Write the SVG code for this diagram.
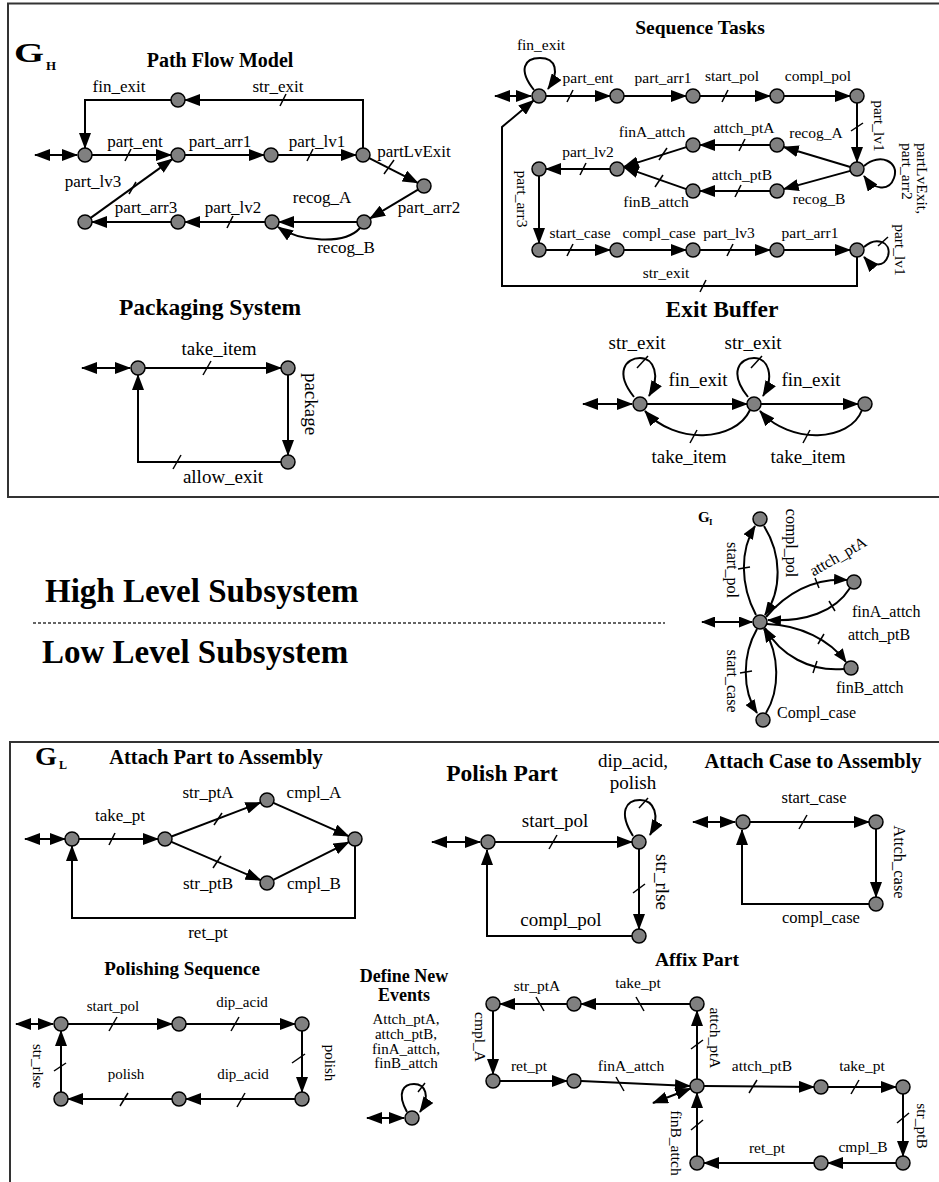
<svg xmlns="http://www.w3.org/2000/svg" width="939" height="1182" viewBox="0 0 939 1182">
<defs>
<marker id="ah" viewBox="0 0 16 12" refX="15" refY="6" markerWidth="16" markerHeight="12" markerUnits="userSpaceOnUse" orient="auto"><path d="M0,0 L16,6 L0,12 z" fill="#000"/></marker>
<marker id="ahs" viewBox="0 0 16 12" refX="15" refY="6" markerWidth="16" markerHeight="12" markerUnits="userSpaceOnUse" orient="auto-start-reverse"><path d="M0,0 L16,6 L0,12 z" fill="#000"/></marker>
<marker id="sm" viewBox="0 0 14 11" refX="13" refY="5.5" markerWidth="14" markerHeight="11" markerUnits="userSpaceOnUse" orient="auto"><path d="M0,0 L14,5.5 L0,11 z" fill="#000"/></marker>
<marker id="sms" viewBox="0 0 14 11" refX="13" refY="5.5" markerWidth="14" markerHeight="11" markerUnits="userSpaceOnUse" orient="auto-start-reverse"><path d="M0,0 L14,5.5 L0,11 z" fill="#000"/></marker>
<style>
.e path{fill:none;stroke:#000;stroke-width:2}
.e path.t{stroke-width:1.5}
.a{marker-end:url(#ah)}
.d{marker-start:url(#ahs);marker-end:url(#ah)}
.s{marker-end:url(#sm)}
.ds{marker-start:url(#sms);marker-end:url(#sm)}
.n{fill:#808080;stroke:#000;stroke-width:1.5}
text{font-family:"Liberation Serif","Times New Roman",serif;fill:#000}
.b{font-weight:bold}
.m{text-anchor:middle}
.r{text-anchor:middle;dominant-baseline:central}
.f15{font-size:15px}
.f155{font-size:15.5px}
.f16{font-size:16px}
.f165{font-size:16.5px}
.f17{font-size:17px}
.f19{font-size:19px}
.frame{fill:none;stroke:#333;stroke-width:2}
</style>
</defs>
<rect width="939" height="1182" fill="#fff"/>

<g id="frames">
<path class="frame" d="M939,3.5 H8 V497 H939"/>
<path class="frame" d="M10,1182 V742 H939"/>
<line x1="33" y1="623" x2="665" y2="623" stroke="#333" stroke-width="1.5" stroke-dasharray="3,2"/>
</g>

<g id="titles">
<text class="b" x="14" y="62" font-size="28" textLength="30" lengthAdjust="spacingAndGlyphs">G</text><text class="b" x="46" y="70" font-size="13">H</text>
<text class="b m" x="220" y="67" font-size="20">Path Flow Model</text>
<text class="b m" x="700" y="34" font-size="19.5">Sequence Tasks</text>
<text class="b m" x="210" y="315" font-size="23.5">Packaging System</text>
<text class="b m" x="722" y="317" font-size="23.5">Exit Buffer</text>
<text class="b" x="45" y="602" font-size="33">High Level Subsystem</text>
<text class="b" x="42" y="663" font-size="33">Low Level Subsystem</text>
<text class="b" x="698" y="522" font-size="15">G</text><text class="b" x="709" y="525" font-size="9">I</text>
<text class="b" x="35" y="765" font-size="25" textLength="22" lengthAdjust="spacingAndGlyphs">G</text><text class="b" x="59" y="769" font-size="12">L</text>
<text class="b m" x="216" y="764" font-size="20.5">Attach Part to Assembly</text>
<text class="b m" x="502" y="781" font-size="23.5">Polish Part</text>
<text class="b m" x="813" y="768" font-size="20.5">Attach Case to Assembly</text>
<text class="b m" x="182" y="975" font-size="19">Polishing Sequence</text>
<text class="b m" x="404" y="982" font-size="18">Define New</text>
<text class="b m" x="404" y="1001" font-size="18">Events</text>
<text class="b m" x="697" y="966" font-size="19.5">Affix Part</text>
</g>

<g id="connectors" class="e">
<!-- Path Flow Model -->
<path class="d" d="M35,155 H77"/>
<path class="a" d="M92,155 H171"/><path class="t" d="M125,161 L131,149"/>
<path class="a" d="M185,155 H264"/>
<path class="a" d="M278,155 H356"/><path class="t" d="M307,161 L313,149"/>
<path class="a" d="M363,148 V100 H185"/><path class="t" d="M280,106 L286,94"/>
<path class="a" d="M171,100 H85 V148"/>
<path class="a" d="M369.2,158.2 L417.8,182.8"/><path class="t" d="M384,174 L394,160"/>
<path class="a" d="M418,189.6 L370,218.4"/>
<path class="a" d="M357,222 H279"/>
<path class="a" d="M360,228 C345,245 300,242 278,227"/>
<path class="a" d="M265,222 H185"/><path class="t" d="M227,228 L233,216"/>
<path class="a" d="M171,222 H92"/>
<path class="a" d="M90.7,217.9 L172.3,159.1"/><path class="t" d="M129,194 L136,182"/>

<!-- Sequence Tasks -->
<path class="d" d="M495,96 H531"/>
<path class="a" d="M534,90 C518,70 524,58 540,58 C556,58 560,72 548,89"/>
<path class="a" d="M546,96 H610"/><path class="t" d="M567,102 L573,90"/>
<path class="a" d="M624,96 H686"/>
<path class="a" d="M700,96 H770"/><path class="t" d="M722,102 L728,90"/>
<path class="a" d="M784,96 H850"/>
<path class="a" d="M857,103 V162"/><path class="t" d="M851,131 L863,123"/>
<path class="a" d="M864,166 C880,152 900,162 894,178 C889,192 874,190 864,176"/>
<path class="a" d="M850.3,167 L783.7,147"/>
<path class="a" d="M770,145 H700"/><path class="t" d="M739,151 L745,139"/>
<path class="a" d="M686.3,147.1 L623.7,166.9"/><path class="t" d="M659,160 L667,148"/>
<path class="a" d="M850.3,170.9 L783.7,189.1"/>
<path class="a" d="M770,191 H700"/><path class="t" d="M735,197 L741,185"/>
<path class="a" d="M686.3,189.1 L623.7,167.1"/><path class="t" d="M655,187 L663,175"/>
<path class="a" d="M610,169 H546"/><path class="t" d="M580,175 L586,163"/>
<path class="a" d="M539,176 V243"/>
<path class="a" d="M546,250 H610"/><path class="t" d="M567,256 L573,244"/>
<path class="a" d="M624,250 H686"/>
<path class="a" d="M700,250 H770"/><path class="t" d="M727,256 L733,244"/>
<path class="a" d="M784,250 H850"/>
<path class="a" d="M864,247 C876,236 892,242 888,256 C884,268 872,266 864,257"/><path class="t" d="M878,246 L888,237"/>
<path class="a" d="M857,257 V286 H502 V127 L533.6,100.5"/><path class="t" d="M700,292 L706,280"/>

<!-- Packaging System -->
<path class="d" d="M82,368 H130"/>
<path class="a" d="M145,368 H281"/><path class="t" d="M203,375 L211,361"/>
<path class="a" d="M288,375 V455"/>
<path class="a" d="M281,462 H138 V375"/><path class="t" d="M173,469 L181,455"/>

<!-- Exit Buffer -->
<path class="d" d="M583,404 H632"/>
<path class="a" d="M634,397 C614,372 626,358 640,358 C654,358 661,376 649,396"/><path class="t" d="M637,368 L648,356"/>
<path class="a" d="M647,404 H747"/>
<path class="a" d="M750,410 C735,442 675,445 645,411"/><path class="t" d="M690,443 L697,430"/>
<path class="a" d="M748,397 C728,372 740,358 754,358 C768,358 775,376 763,396"/><path class="t" d="M751,368 L762,356"/>
<path class="a" d="M761,404 H858"/>
<path class="a" d="M862,410 C850,442 790,445 760,411"/><path class="t" d="M803,443 L810,430"/>

<!-- G_I -->
<path class="ds" d="M702,622 H752"/>
<path class="s" d="M756,615 C740,585 740,550 755,526"/><path class="t" d="M738,569 L750,567"/>
<path class="s" d="M764,526 C782,555 782,590 765,615"/>
<path class="s" d="M766,617 C785,595 810,578 847,580"/><path class="t" d="M815,578 L819,588"/>
<path class="s" d="M850,588 C835,612 805,622 768,620"/><path class="t" d="M829,601 L835,611"/>
<path class="s" d="M767,624 C800,625 830,640 846,662"/><path class="t" d="M824,634 L818,644"/>
<path class="s" d="M844,669 C810,672 780,655 765,628"/><path class="t" d="M813,673 L817,661"/>
<path class="s" d="M757,629 C742,655 742,690 757,713"/><path class="t" d="M740,673 L752,671"/>
<path class="s" d="M766,713 C780,690 780,655 764,629"/>

<!-- Attach Part to Assembly -->
<path class="d" d="M25,839 H65"/>
<path class="a" d="M79,839 H158"/><path class="t" d="M109,845 L115,833"/>
<path class="a" d="M171.5,836.5 L260.5,802.5"/><path class="t" d="M214,825 L222,813"/>
<path class="a" d="M171.4,841.8 L260.6,880.2"/><path class="t" d="M213,868 L221,856"/>
<path class="a" d="M273.4,802.8 L348.6,836.2"/>
<path class="a" d="M273.3,879.9 L348.7,842.1"/>
<path class="a" d="M355,846 V918 H72 V846"/>

<!-- Polish Part -->
<path class="d" d="M432,842 H480"/>
<path class="a" d="M495,842 H632"/><path class="t" d="M549,849 L557,835"/>
<path class="a" d="M633,836 C618,812 626,800 640,800 C654,800 661,816 650,835"/><path class="t" d="M639,808 L648,798"/>
<path class="a" d="M639,849 V929"/><path class="t" d="M633,893 L645,884"/>
<path class="a" d="M632,936 H487 V850"/>

<!-- Attach Case -->
<path class="d" d="M693,822 H735"/>
<path class="a" d="M750,822 H869"/><path class="t" d="M799,829 L807,815"/>
<path class="a" d="M876,829 V897"/>
<path class="a" d="M869,904 H742 V830"/>

<!-- Polishing Sequence -->
<path class="d" d="M16,1024 H53"/>
<path class="a" d="M68,1024 H172"/><path class="t" d="M109,1031 L117,1017"/>
<path class="a" d="M186,1024 H295"/><path class="t" d="M231,1031 L239,1017"/>
<path class="a" d="M302,1031 V1092"/><path class="t" d="M292,1063 L305,1054"/>
<path class="a" d="M295,1099 H186"/><path class="t" d="M237,1107 L245,1093"/>
<path class="a" d="M172,1099 H68"/><path class="t" d="M120,1106 L128,1093"/>
<path class="a" d="M61,1092 V1031"/><path class="t" d="M54,1071 L66,1063"/>

<!-- Define New Events -->
<path class="d" d="M367,1118 H404"/>
<path class="a" d="M407,1112 C396,1092 404,1084 414,1084 C425,1084 431,1096 420,1112"/><path class="t" d="M418,1092 L425,1083"/>

<!-- Affix Part -->
<path class="d" d="M653,1103 L690.5,1088.5"/>
<path class="a" d="M697,1079 V1011"/><path class="t" d="M691,1049 L703,1040"/>
<path class="a" d="M690,1004 H581"/><path class="t" d="M636,997 L644,1011"/>
<path class="a" d="M567,1004 H500"/><path class="t" d="M536,997 L544,1011"/>
<path class="a" d="M493,1011 V1074"/>
<path class="a" d="M500,1081 H567"/>
<path class="a" d="M581,1081 L690,1086"/><path class="t" d="M616,1077 L624,1091"/>
<path class="a" d="M704,1086 L814,1087"/><path class="t" d="M749,1093 L757,1080"/>
<path class="a" d="M828,1087 H896"/><path class="t" d="M851,1094 L859,1080"/>
<path class="a" d="M903,1094 V1156"/><path class="t" d="M897,1123 L909,1113"/>
<path class="a" d="M896,1163 H828"/>
<path class="a" d="M814,1163 H704"/>
<path class="a" d="M697,1156 V1093"/><path class="t" d="M691,1130 L703,1120"/>
</g>

<g id="labels">
<!-- Path Flow -->
<text class="m f17" x="119" y="92">fin_exit</text>
<text class="m f17" x="278" y="92">str_exit</text>
<text class="m f17" x="135" y="147">part_ent</text>
<text class="m f17" x="220" y="147">part_arr1</text>
<text class="m f17" x="317" y="147">part_lv1</text>
<text class="m f17" x="414" y="157">partLvExit</text>
<text class="m f17" x="93" y="187">part_lv3</text>
<text class="m f17" x="146" y="213">part_arr3</text>
<text class="m f17" x="233" y="213">part_lv2</text>
<text class="m f17" x="322" y="203">recog_A</text>
<text class="m f17" x="429" y="213">part_arr2</text>
<text class="m f17" x="346" y="253">recog_B</text>
<!-- Sequence Tasks -->
<text class="m f155" x="541" y="50">fin_exit</text>
<text class="m f155" x="588" y="83">part_ent</text>
<text class="m f155" x="663" y="83">part_arr1</text>
<text class="m f155" x="732" y="81">start_pol</text>
<text class="m f155" x="818" y="81">compl_pol</text>
<text class="r f155" transform="translate(879,126) rotate(90)">part_lv1</text>
<text class="f155" dominant-baseline="central" transform="translate(922,143) rotate(90)">partLvExit,</text>
<text class="f155" dominant-baseline="central" transform="translate(907,143) rotate(90)">part_arr2</text>
<text class="m f155" x="816" y="138">recog_A</text>
<text class="m f155" x="744" y="133">attch_ptA</text>
<text class="m f155" x="652" y="137">finA_attch</text>
<text class="m f155" x="588" y="157">part_lv2</text>
<text class="r f155" transform="translate(522,199) rotate(90)">part_arr3</text>
<text class="m f155" x="742" y="180">attch_ptB</text>
<text class="m f155" x="656" y="207">finB_attch</text>
<text class="m f155" x="819" y="204">recog_B</text>
<text class="m f155" x="580" y="238">start_case</text>
<text class="m f155" x="659" y="238">compl_case</text>
<text class="m f155" x="729" y="238">part_lv3</text>
<text class="m f155" x="810" y="238">part_arr1</text>
<text class="r f155" transform="translate(900,250) rotate(90)">part_lv1</text>
<text class="m f155" x="666" y="278">str_exit</text>
<!-- Packaging -->
<text class="m f19" x="219" y="355">take_item</text>
<text class="r f19" transform="translate(311,404) rotate(90)">package</text>
<text class="m f19" x="223" y="483">allow_exit</text>
<!-- Exit Buffer -->
<text class="m f19" x="637" y="349">str_exit</text>
<text class="m f19" x="753" y="349">str_exit</text>
<text class="m f19" x="698" y="386">fin_exit</text>
<text class="m f19" x="811" y="386">fin_exit</text>
<text class="m f19" x="689" y="463">take_item</text>
<text class="m f19" x="808" y="463">take_item</text>
<!-- G_I -->
<text class="r f16" transform="translate(732,570) rotate(90)">start_pol</text>
<text class="r f16" transform="translate(791,543) rotate(90)">compl_pol</text>
<text class="r f16" transform="translate(838,556) rotate(-30)">attch_ptA</text>
<text class="f16" x="852" y="617">finA_attch</text>
<text class="f16" x="848" y="640">attch_ptB</text>
<text class="f16" x="836" y="693">finB_attch</text>
<text class="r f16" transform="translate(732,681) rotate(90)">start_case</text>
<text class="f16" x="777" y="718">Compl_case</text>
<!-- Attach Part -->
<text class="m f17" x="120" y="821">take_pt</text>
<text class="m f17" x="208" y="798">str_ptA</text>
<text class="m f17" x="314" y="798">cmpl_A</text>
<text class="m f17" x="208" y="889">str_ptB</text>
<text class="m f17" x="314" y="889">cmpl_B</text>
<text class="m f17" x="208" y="938">ret_pt</text>
<!-- Polish Part -->
<text class="m f19" x="633" y="767">dip_acid,</text>
<text class="m f19" x="633" y="789">polish</text>
<text class="m f19" x="555" y="827">start_pol</text>
<text class="r f19" transform="translate(662,882) rotate(90)">str_rlse</text>
<text class="m f19" x="561" y="926">compl_pol</text>
<!-- Attach Case -->
<text class="m f165" x="814" y="803">start_case</text>
<text class="r f165" transform="translate(899,862) rotate(90)">Attch_case</text>
<text class="m f165" x="821" y="923">compl_case</text>
<!-- Polishing Sequence -->
<text class="m f15" x="113" y="1011">start_pol</text>
<text class="m f15" x="242" y="1007">dip_acid</text>
<text class="r f15" transform="translate(330,1063) rotate(90)">polish</text>
<text class="m f15" x="243" y="1079">dip_acid</text>
<text class="m f15" x="126" y="1079">polish</text>
<text class="r f15" transform="translate(38,1066) rotate(90)">str_rlse</text>
<!-- Define New Events -->
<text class="m f15" x="406" y="1024">Attch_ptA,</text>
<text class="m f15" x="406" y="1039">attch_ptB,</text>
<text class="m f15" x="406" y="1054">finA_attch,</text>
<text class="m f15" x="406" y="1068">finB_attch</text>
<!-- Affix Part -->
<text class="m f155" x="638" y="988">take_pt</text>
<text class="m f155" x="537" y="991">str_ptA</text>
<text class="r f155" transform="translate(715,1038) rotate(90)">attch_ptA</text>
<text class="r f155" transform="translate(480,1037) rotate(90)">cmpl_A</text>
<text class="m f155" x="529" y="1071">ret_pt</text>
<text class="m f155" x="631" y="1071">finA_attch</text>
<text class="m f155" x="762" y="1071">attch_ptB</text>
<text class="m f155" x="862" y="1071">take_pt</text>
<text class="r f155" transform="translate(922,1126) rotate(90)">str_ptB</text>
<text class="m f155" x="863" y="1152">cmpl_B</text>
<text class="m f155" x="767" y="1153">ret_pt</text>
<text class="r f155" transform="translate(676,1143) rotate(90)">finB_attch</text>
</g>

<g id="nodes">
<g id="pf-n0"><circle class="n" cx="85" cy="155" r="7"/></g>
<g id="pf-n1"><circle class="n" cx="178" cy="155" r="7"/></g>
<g id="pf-n2"><circle class="n" cx="271" cy="155" r="7"/></g>
<g id="pf-n3"><circle class="n" cx="363" cy="155" r="7"/></g>
<g id="pf-n4"><circle class="n" cx="178" cy="100" r="7"/></g>
<g id="pf-n5"><circle class="n" cx="424" cy="186" r="7"/></g>
<g id="pf-n6"><circle class="n" cx="364" cy="222" r="7"/></g>
<g id="pf-n7"><circle class="n" cx="272" cy="222" r="7"/></g>
<g id="pf-n8"><circle class="n" cx="178" cy="222" r="7"/></g>
<g id="pf-n9"><circle class="n" cx="85" cy="222" r="7"/></g>

<g id="st-a1"><circle class="n" cx="539" cy="96" r="7"/></g>
<g id="st-a2"><circle class="n" cx="617" cy="96" r="7"/></g>
<g id="st-a3"><circle class="n" cx="693" cy="96" r="7"/></g>
<g id="st-a4"><circle class="n" cx="777" cy="96" r="7"/></g>
<g id="st-a5"><circle class="n" cx="857" cy="96" r="7"/></g>
<g id="st-b1"><circle class="n" cx="693" cy="145" r="7"/></g>
<g id="st-b2"><circle class="n" cx="777" cy="145" r="7"/></g>
<g id="st-c1"><circle class="n" cx="539" cy="169" r="7"/></g>
<g id="st-c2"><circle class="n" cx="617" cy="169" r="7"/></g>
<g id="st-c3"><circle class="n" cx="857" cy="169" r="7"/></g>
<g id="st-d1"><circle class="n" cx="693" cy="191" r="7"/></g>
<g id="st-d2"><circle class="n" cx="777" cy="191" r="7"/></g>
<g id="st-e1"><circle class="n" cx="539" cy="250" r="7"/></g>
<g id="st-e2"><circle class="n" cx="617" cy="250" r="7"/></g>
<g id="st-e3"><circle class="n" cx="693" cy="250" r="7"/></g>
<g id="st-e4"><circle class="n" cx="777" cy="250" r="7"/></g>
<g id="st-e5"><circle class="n" cx="857" cy="250" r="7"/></g>

<g id="pk-n0"><circle class="n" cx="138" cy="368" r="7"/></g>
<g id="pk-n1"><circle class="n" cx="288" cy="368" r="7"/></g>
<g id="pk-n2"><circle class="n" cx="288" cy="462" r="7"/></g>

<g id="eb-n0"><circle class="n" cx="640" cy="404" r="7"/></g>
<g id="eb-n1"><circle class="n" cx="754" cy="404" r="7"/></g>
<g id="eb-n2"><circle class="n" cx="865" cy="404" r="7"/></g>

<g id="gi-c"><circle class="n" cx="760" cy="622" r="7"/></g>
<g id="gi-t"><circle class="n" cx="760" cy="519" r="7"/></g>
<g id="gi-ur"><circle class="n" cx="854" cy="582" r="7"/></g>
<g id="gi-lr"><circle class="n" cx="851" cy="668" r="7"/></g>
<g id="gi-b"><circle class="n" cx="763" cy="720" r="7"/></g>

<g id="ap-n0"><circle class="n" cx="72" cy="839" r="7"/></g>
<g id="ap-n1"><circle class="n" cx="165" cy="839" r="7"/></g>
<g id="ap-na"><circle class="n" cx="267" cy="800" r="7"/></g>
<g id="ap-nb"><circle class="n" cx="267" cy="883" r="7"/></g>
<g id="ap-n3"><circle class="n" cx="355" cy="839" r="7"/></g>

<g id="pp-n0"><circle class="n" cx="488" cy="842" r="7"/></g>
<g id="pp-n1"><circle class="n" cx="639" cy="842" r="7"/></g>
<g id="pp-n2"><circle class="n" cx="639" cy="936" r="7"/></g>

<g id="ac-n0"><circle class="n" cx="743" cy="822" r="7"/></g>
<g id="ac-n1"><circle class="n" cx="876" cy="822" r="7"/></g>
<g id="ac-n2"><circle class="n" cx="876" cy="904" r="7"/></g>

<g id="ps-t0"><circle class="n" cx="61" cy="1024" r="7"/></g>
<g id="ps-t1"><circle class="n" cx="179" cy="1024" r="7"/></g>
<g id="ps-t2"><circle class="n" cx="302" cy="1024" r="7"/></g>
<g id="ps-u2"><circle class="n" cx="302" cy="1099" r="7"/></g>
<g id="ps-u1"><circle class="n" cx="179" cy="1099" r="7"/></g>
<g id="ps-u0"><circle class="n" cx="61" cy="1099" r="7"/></g>

<g id="dn-n0"><circle class="n" cx="412" cy="1118" r="7"/></g>

<g id="af-a"><circle class="n" cx="697" cy="1004" r="7"/></g>
<g id="af-b"><circle class="n" cx="574" cy="1004" r="7"/></g>
<g id="af-c"><circle class="n" cx="493" cy="1004" r="7"/></g>
<g id="af-d"><circle class="n" cx="493" cy="1081" r="7"/></g>
<g id="af-e"><circle class="n" cx="574" cy="1081" r="7"/></g>
<g id="af-f"><circle class="n" cx="697" cy="1086" r="7"/></g>
<g id="af-g"><circle class="n" cx="821" cy="1087" r="7"/></g>
<g id="af-h"><circle class="n" cx="903" cy="1087" r="7"/></g>
<g id="af-i"><circle class="n" cx="903" cy="1163" r="7"/></g>
<g id="af-j"><circle class="n" cx="821" cy="1163" r="7"/></g>
<g id="af-k"><circle class="n" cx="697" cy="1163" r="7"/></g>
</g>
</svg>
